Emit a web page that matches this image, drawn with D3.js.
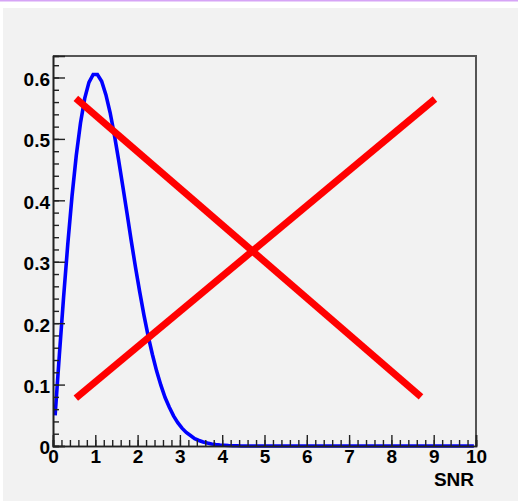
<!DOCTYPE html>
<html>
<head>
<meta charset="utf-8">
<script src="https://cdn.jsdelivr.net/npm/d3@7"></script>
<style>
  html, body { margin: 0; padding: 0; background: #ffffff; }
  svg { display: block; }
  .lbl { font-family: "Liberation Sans", Arial, Helvetica, sans-serif; font-weight: bold; fill: #000; }
</style>
</head>
<body>
<svg id="chart" width="518" height="501"></svg>
<script>
// SNR distribution (bin centre, content) — tail is empty
const snrBins = [0.05, 0.15, 0.25, 0.35, 0.45, 0.55, 0.65, 0.75, 0.85, 0.95,
                 1.05, 1.15, 1.25, 1.35, 1.45, 1.55, 1.65, 1.75, 1.85, 1.95,
                 2.05, 2.15, 2.25, 2.35, 2.45, 2.55, 2.65, 2.75, 2.85, 2.95,
                 3.05, 3.15, 3.25, 3.35, 3.45, 3.55, 3.65, 3.75, 3.85, 3.95,
                 4.05, 4.15, 4.25, 4.35, 4.45, 9.95];
const snrValues = [0.050, 0.148, 0.242, 0.329, 0.407, 0.473, 0.526, 0.566, 0.592, 0.605,
                   0.605, 0.594, 0.572, 0.543, 0.507, 0.466, 0.423, 0.379, 0.334, 0.291,
                   0.251, 0.213, 0.179, 0.149, 0.122, 0.099, 0.079, 0.063, 0.049, 0.038,
                   0.029, 0.022, 0.017, 0.012, 0.009, 0.0065, 0.0047, 0.0033, 0.0023, 0.0016,
                   0.0011, 0.0007, 0.0005, 0.0003, 0.0, 0.0];

// Crossing lines over the plot (x, y endpoints)
const crossDown = [[0.54, 0.566], [8.70, 0.080]];
const crossUp   = [[0.54, 0.078], [9.03, 0.565]];

// Axis setup
const xDomain = [0, 10];
const yDomain = [0, 0.635];
const xMajorTicks = d3.range(0, 11, 1);
const xMinorTicks = d3.range(0, 10.01, 0.2);
const yMajorTicks = [0, 0.1, 0.2, 0.3, 0.4, 0.5, 0.6];
const yMinorTicks = d3.range(0, 0.63, 0.02);
const xTitle = "SNR";

const svg = d3.select("#chart");
const W = 518, H = 501;
const mLeft = 53, mRight = 476, mTop = 56, mBottom = 446;

// page and pad background
svg.append("rect").attr("x", 0).attr("y", 0).attr("width", W).attr("height", 1.5).attr("fill", "#d6a4f6");
svg.append("rect").attr("x", 3).attr("y", 8).attr("width", W - 3).attr("height", H - 8).attr("fill", "#f2f2f2");

const x = d3.scaleLinear().domain(xDomain).range([mLeft, mRight]);
const y = d3.scaleLinear().domain(yDomain).range([mBottom, mTop]);

// frame
svg.append("line").attr("x1", mLeft).attr("x2", mRight).attr("y1", mTop).attr("y2", mTop)
  .attr("stroke", "#555").attr("stroke-width", 2);
svg.append("line").attr("x1", mRight).attr("x2", mRight).attr("y1", mTop - 1).attr("y2", mBottom)
  .attr("stroke", "#555").attr("stroke-width", 2);

// distribution curve
const line = d3.line().x((d, i) => x(snrBins[i])).y(d => y(d));
svg.append("path").datum(snrValues)
  .attr("d", line)
  .attr("fill", "none")
  .attr("stroke", "#0000ff")
  .attr("stroke-width", 3.6)
  .attr("stroke-linejoin", "miter");

// crossing lines
const seg = d3.line().x(d => x(d[0])).y(d => y(d[1]));
[crossDown, crossUp].forEach(s => {
  svg.append("path").datum(s).attr("d", seg)
    .attr("fill", "none").attr("stroke", "#ff0000")
    .attr("stroke-width", 7).attr("stroke-linecap", "butt");
});

// x axis: minor ticks, then major with labels
const xMinor = d3.axisBottom(x).tickValues(xMinorTicks).tickSize(-6).tickFormat("");
const gxm = svg.append("g").attr("transform", `translate(0,${mBottom})`).call(xMinor);
const xAxis = d3.axisBottom(x).tickValues(xMajorTicks).tickSize(-11).tickPadding(4)
  .tickFormat(d3.format("d"));
const gx = svg.append("g").attr("transform", `translate(0,${mBottom})`).call(xAxis);

// y axis
const yMinor = d3.axisLeft(y).tickValues(yMinorTicks).tickSize(-6).tickFormat("");
const gym = svg.append("g").attr("transform", `translate(${mLeft},0)`).call(yMinor);
const yAxis = d3.axisLeft(y).tickValues(yMajorTicks).tickSize(-12).tickPadding(3)
  .tickFormat(d => d === 0 ? "0" : d3.format(".1f")(d));
const gy = svg.append("g").attr("transform", `translate(${mLeft},0)`).call(yAxis);

[gxm, gx, gym, gy].forEach(g => {
  g.select(".domain").attr("stroke", "#222").attr("stroke-width", 1.6);
  g.selectAll(".tick line").attr("stroke", "#222").attr("stroke-width", 1.4);
  g.selectAll("text").attr("class", "lbl").attr("font-size", 19).attr("font-family", null);
});
gy.selectAll("text").attr("dy", "0.42em");

// axis title
svg.append("text").attr("class", "lbl")
  .attr("x", 474).attr("y", 486)
  .attr("text-anchor", "end")
  .attr("font-size", 19)
  .text(xTitle);
</script>
</body>
</html>
